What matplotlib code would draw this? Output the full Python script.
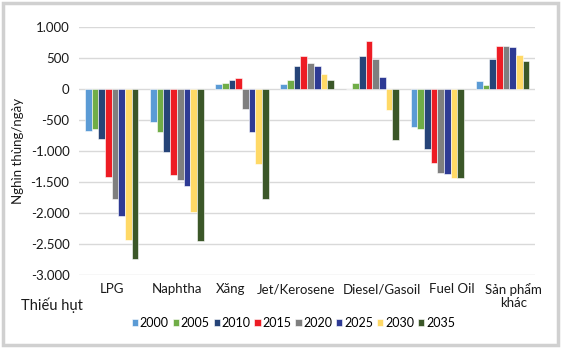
import matplotlib
matplotlib.use("Agg")
import matplotlib.pyplot as plt
import numpy as np
from matplotlib.patches import Rectangle
from matplotlib.ticker import FuncFormatter

plt.rcParams['font.family'] = ['Lato', 'DejaVu Sans']

categories = ['LPG', 'Naphtha', 'Xăng', 'Jet/Kerosene', 'Diesel/Gasoil', 'Fuel Oil', 'Sản phẩm\nkhác']
years = ['2000', '2005', '2010', '2015', '2020', '2025', '2030', '2035']

# nghin thung/ngay, moi list = 1 nam, theo thu tu categories
v2000 = [-683, -538, 81, 76, 0, -608, 124]
v2005 = [-646, -689, 92, 150, 92, -646, 70]
v2010 = [-808, -1013, 150, 366, 528, -975, 479]
v2015 = [-1422, -1384, 178, 538, 780, -1201, 694]
v2020 = [-1777, -1465, -323, 420, 485, -1352, 694]
v2025 = [-2046, -1562, -700, 372, 189, -1368, 678]
v2030 = [-2434, -1982, -1217, 237, -345, -1432, 549]
v2035 = [-2746, -2460, -1772, 140, -818, -1432, 452]
values = [v2000, v2005, v2010, v2015, v2020, v2025, v2030, v2035]

colors = ['#5B9BD5', '#70AD47', '#264478', '#ED1C24', '#7F7F7F', '#2E3A94', '#FFD966', '#3B5728']

# nhan truc x trong ban goc khong nam dung giua nhom cot -> lech mot chut
label_shift = [0.0, 0.0, -0.17, -0.17, 0.15, 0.22, 0.17]

fig = plt.figure(figsize=(5.61, 3.48), dpi=100)
ax = fig.add_axes([0.141, 0.21, 0.813, 0.712])

x = np.arange(len(categories))
n = len(years)
w = 0.82 / n
for i in range(n):
    ax.bar(x - 0.41 + w * (i + 0.5), values[i], width=w, color=colors[i],
           edgecolor='white', linewidth=0.4, label=years[i], zorder=3)

ax.set_xlim(-0.5, len(categories) - 0.5)
ax.set_ylim(-3000, 1000)
ax.set_yticks(np.arange(-3000, 1001, 500))
ax.yaxis.set_major_formatter(FuncFormatter(lambda v, p: f"{int(v):,}".replace(',', '.')))
ax.grid(axis='y', color='#D9D9D9', linewidth=1, zorder=0)
for s in ax.spines.values():
    s.set_visible(False)
ax.tick_params(axis='both', length=0, labelsize=9.5, colors='#1a1a1a')
ax.tick_params(axis='y', pad=7)
ax.tick_params(axis='x', pad=6)
ax.set_xticks(x + np.array(label_shift))
ax.set_xticklabels(categories, va='top', linespacing=1.05)
ax.set_ylabel('Nghìn thùng/ngày', fontsize=9.5, color='#1a1a1a', labelpad=5)

fig.text(0.038, 0.123, 'Thiếu hụt', fontsize=10.5, color='#1a1a1a', va='center')

fig.legend(loc='center', bbox_to_anchor=(0.523, 0.071), ncol=8, frameon=False,
           fontsize=9, handlelength=0.5, handleheight=0.5, handletextpad=0.15,
           columnspacing=0.3)

fig.patches.append(Rectangle((0.006, 0.008), 0.988, 0.984, transform=fig.transFigure,
                             fill=False, edgecolor='#D0D0D0', linewidth=2.5))

fig.savefig('out.png', dpi=100)
